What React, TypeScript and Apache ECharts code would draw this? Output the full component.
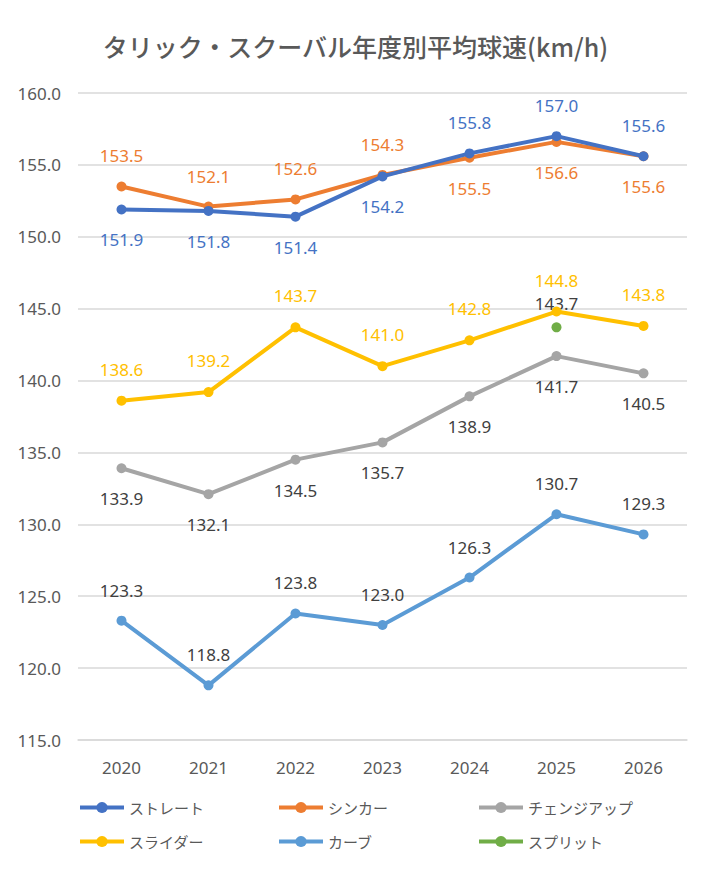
import React, { useEffect, useRef } from "react";
import * as echarts from "echarts";

const years = ["2020", "2021", "2022", "2023", "2024", "2025", "2026"];
const straight = [151.9, 151.8, 151.4, 154.2, 155.8, 157.0, 155.6];
const straightPos = ["bottom", "bottom", "bottom", "bottom", "top", "top", "top"];
const sinker = [153.5, 152.1, 152.6, 154.3, 155.5, 156.6, 155.6];
const sinkerPos = ["top", "top", "top", "top", "bottom", "bottom", "bottom"];
const changeup = [133.9, 132.1, 134.5, 135.7, 138.9, 141.7, 140.5];
const slider = [138.6, 139.2, 143.7, 141.0, 142.8, 144.8, 143.8];
const curve = [123.3, 118.8, 123.8, 123.0, 126.3, 130.7, 129.3];
const split = [null, null, null, null, null, 143.7, null];

const seriesNames = ["ストレート", "シンカー", "チェンジアップ", "スライダー", "カーブ", "スプリット"];
const colors = ["#4472C4", "#ED7D31", "#A5A5A5", "#FFC000", "#5B9BD5", "#70AD47"];

const FONT = "'Noto Sans', 'Noto Sans CJK JP', sans-serif";
const JFONT = "'Noto Sans CJK JP', 'Noto Sans', sans-serif";

export default function App() {
  const ref = useRef<HTMLDivElement>(null);
  useEffect(() => {
    if (!ref.current) return;
    const chart = echarts.init(ref.current, null, { renderer: "svg" });
    const fmt = (p: any) => (p.value == null ? "" : Number(p.value).toFixed(1));
    const mk = (
      idx: number,
      values: (number | null)[],
      positions: string[] | string,
      labelColor: string,
      dist = 17
    ) => ({
      name: seriesNames[idx],
      type: "line",
      data: values.map((v, i) => ({
        value: v,
        label: {
          position: Array.isArray(positions) ? positions[i] : positions,
        },
      })),
      symbol: "circle",
      symbolSize: 10,
      showSymbol: true,
      connectNulls: false,
      itemStyle: { color: colors[idx] },
      lineStyle: { color: colors[idx], width: 4 },
      label: {
        show: true,
        formatter: fmt,
        color: labelColor,
        fontSize: 17,
        fontFamily: FONT,
        distance: dist,
      },
      labelLayout: { hideOverlap: false },
      emphasis: { disabled: true },
      z: 10 - idx,
    });
    const legendLefts = [78, 277, 477];
    const legendTops = [800, 834];
    const legends = seriesNames.map((n, i) => ({
      data: [n],
      left: legendLefts[i % 3],
      top: legendTops[Math.floor(i / 3)],
      padding: 0,
      itemWidth: 44,
      itemHeight: 14,
      lineStyle: { width: 4 },
      textStyle: { color: "#595959", fontSize: 15, fontFamily: JFONT },
      selectedMode: false,
    }));
    chart.setOption({
      animation: false,
      backgroundColor: "#ffffff",
      title: {
        text: "タリック・スクーバル年度別平均球速(km/h)",
        left: "center",
        top: 28,
        textStyle: {
          color: "#595959",
          fontSize: 25,
          fontWeight: 500,
          fontFamily: JFONT,
        },
      },
      legend: legends,
      grid: { left: 78, right: 24, top: 93, bottom: 136, containLabel: false },
      xAxis: {
        type: "category",
        data: years,
        boundaryGap: true,
        axisLine: { show: true, lineStyle: { color: "#d9d9d9", width: 1.5 } },
        axisTick: { show: false },
        axisLabel: { color: "#595959", fontSize: 17, fontFamily: FONT, margin: 19 },
      },
      yAxis: {
        type: "value",
        min: 115,
        max: 160,
        interval: 5,
        axisLine: { show: false },
        axisTick: { show: false },
        axisLabel: {
          color: "#595959",
          fontSize: 17,
          fontFamily: FONT,
          margin: 17,
          formatter: (v: number) => v.toFixed(1),
        },
        splitLine: { lineStyle: { color: "#d9d9d9", width: 1.5 } },
      },
      series: [
        mk(0, straight, straightPos, "#4472C4"),
        mk(1, sinker, sinkerPos, "#ED7D31"),
        mk(2, changeup, "bottom", "#404040"),
        mk(3, slider, "top", "#FFC000", 18),
        mk(4, curve, "top", "#404040"),
        mk(5, split, "top", "#404040", 10),
      ],
    });
    return () => chart.dispose();
  }, []);
  return (
    <div
      style={{
        position: "absolute",
        left: 0,
        top: 0,
        width: 711,
        height: 876,
        boxSizing: "border-box",
        border: "2px solid #d9d9d9",
        background: "#fff",
      }}
    >
      <div ref={ref} style={{ position: "absolute", left: -2, top: -2, width: 711, height: 876 }} />
    </div>
  );
}
